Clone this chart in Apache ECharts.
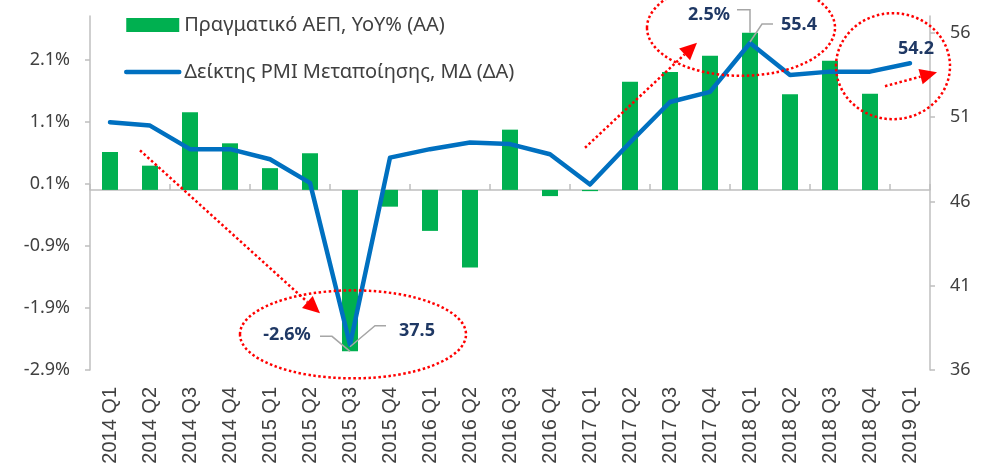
<!DOCTYPE html>
<html>
<head>
<meta charset="utf-8">
<script src="https://cdn.jsdelivr.net/npm/echarts@6/dist/echarts.min.js"></script>
<style>
  html, body { margin: 0; padding: 0; background: #fff; }
  #chart { width: 987px; height: 469px; }
</style>
</head>
<body>
<div id="chart"></div>
<script>
const quarters = ['2014 Q1', '2014 Q2', '2014 Q3', '2014 Q4', '2015 Q1', '2015 Q2', '2015 Q3', '2015 Q4',
  '2016 Q1', '2016 Q2', '2016 Q3', '2016 Q4', '2017 Q1', '2017 Q2', '2017 Q3', '2017 Q4',
  '2018 Q1', '2018 Q2', '2018 Q3', '2018 Q4', '2019 Q1'];
// Πραγματικό ΑΕΠ, YoY% (αριστερός άξονας)
const gdpYoY = [0.61, 0.39, 1.25, 0.75, 0.35, 0.59, -2.6, -0.27, -0.66, -1.25, 0.97, -0.1, -0.02,
  1.74, 1.9, 2.16, 2.53, 1.54, 2.08, 1.55, null];
// PMI μεταποίησης (δεξιός άξονας)
const pmi = [50.7, 50.5, 49.1, 49.1, 48.5, 47.1, 37.5, 48.6, 49.1, 49.5, 49.4, 48.8, 47.0,
  49.5, 51.9, 52.5, 55.4, 53.5, 53.7, 53.7, 54.2];
const leftTicks = [-2.9, -1.9, -0.9, 0.1, 1.1, 2.1];
const rightTicks = [36, 41, 46, 51, 56];

const troughIdx = 6, peakIdx = 16, lastIdx = 20;
const FONT = '"Noto Sans", "DejaVu Sans", sans-serif';
const axisGray = '#BFBFBF';
const textGray = '#404040';
const pmiBlue = '#0070C0';

const chart = echarts.init(document.getElementById('chart'));

chart.setOption({
  animation: false,
  textStyle: { fontFamily: FONT },
  legend: {
    orient: 'vertical',
    left: 119,
    top: 9,
    itemWidth: 53,
    itemHeight: 14,
    itemGap: 25,
    textStyle: { fontSize: 20, color: textGray, lineHeight: 22 },
    data: [
      { name: 'Πραγματικό ΑΕΠ, YoY% (ΑΑ)', icon: 'rect' },
      {
        name: 'Δείκτης PMI Μεταποίησης, ΜΔ (ΔΑ)',
        itemStyle: { opacity: 0 },
        lineStyle: { width: 4.5, color: pmiBlue, cap: 'round' }
      }
    ]
  },
  grid: { left: 90, right: 57, top: 16, bottom: 99 },
  xAxis: [
    {
      type: 'category',
      data: quarters,
      position: 'bottom',
      axisLine: { show: false, onZero: false },
      axisTick: { show: false },
      axisLabel: {
        rotate: 90, fontSize: 20, fontFamily: '"Liberation Sans", Arial, sans-serif',
        color: textGray, margin: 17, interval: 0
      }
    },
    {
      type: 'category',
      data: quarters,
      position: 'bottom',
      axisLine: { onZero: true, onZeroAxisIndex: 0, lineStyle: { color: axisGray, width: 1.5 } },
      axisTick: { show: true, inside: true, length: 6, lineStyle: { color: axisGray, width: 1.5 } },
      axisLabel: { show: false }
    }
  ],
  yAxis: [
    {
      type: 'value',
      min: -2.9,
      max: 2.8,
      splitLine: { show: false },
      axisLine: { show: true, lineStyle: { color: axisGray, width: 1.5 } },
      axisTick: { show: true, length: 5, customValues: leftTicks, lineStyle: { color: axisGray, width: 1.5 } },
      axisLabel: {
        fontSize: 18, color: textGray, margin: 20, customValues: leftTicks,
        formatter: v => v.toFixed(1) + '%'
      }
    },
    {
      type: 'value',
      min: 36,
      max: 57,
      position: 'right',
      splitLine: { show: false },
      axisLine: { show: true, lineStyle: { color: axisGray, width: 1.5 } },
      axisTick: { show: true, length: 5, customValues: rightTicks, lineStyle: { color: axisGray, width: 1.5 } },
      axisLabel: { fontSize: 18, color: textGray, margin: 20, customValues: rightTicks }
    }
  ],
  series: [
    {
      name: 'Πραγματικό ΑΕΠ, YoY% (ΑΑ)',
      type: 'bar',
      xAxisIndex: 0,
      yAxisIndex: 0,
      barWidth: 16,
      itemStyle: { color: '#00B050' },
      data: gdpYoY
    },
    {
      name: 'Δείκτης PMI Μεταποίησης, ΜΔ (ΔΑ)',
      type: 'line',
      xAxisIndex: 0,
      yAxisIndex: 1,
      symbol: 'none',
      z: 5,
      lineStyle: { color: pmiBlue, width: 4.5, cap: 'round', join: 'round' },
      itemStyle: { color: pmiBlue },
      data: pmi
    }
  ]
});

// σχολιασμοί: ετικέτες, οδηγοί, κύκλοι και βέλη
const barEnd = i => chart.convertToPixel({ seriesIndex: 0 }, [i, gdpYoY[i]]);
const pmiPt = i => chart.convertToPixel({ seriesIndex: 1 }, [i, pmi[i]]);

const red = '#FF0000';
const dotted = { stroke: red, lineWidth: 2.5, lineDash: [2.5, 2.5], fill: null };
const leader = { stroke: '#A6A6A6', lineWidth: 1.5, fill: null };
const labelFont = 'bold 18px ' + FONT;

const els = [];
function label(p, dx, dy, text) {
  els.push({ type: 'text', z: 20, style: {
    text: text, x: p[0] + dx, y: p[1] + dy, font: labelFont, fill: '#1F3864',
    align: 'center', verticalAlign: 'middle', textAlign: 'center', textVerticalAlign: 'middle'
  } });
}
function polyline(p, pts) {
  els.push({ type: 'polyline', z: 19, shape: { points: pts.map(q => [p[0] + q[0], p[1] + q[1]]) }, style: leader });
}
function ellipse(p, dx, dy, rx, ry) {
  els.push({ type: 'ellipse', z: 18, shape: { cx: p[0] + dx, cy: p[1] + dy, rx: rx, ry: ry }, style: dotted });
}
function arrow(p, s, t) {
  const x1 = p[0] + s[0], y1 = p[1] + s[1], x2 = p[0] + t[0], y2 = p[1] + t[1];
  const a = Math.atan2(y2 - y1, x2 - x1), L = 17, W = 8;
  const bx = x2 - L * Math.cos(a), by = y2 - L * Math.sin(a);
  els.push({ type: 'line', z: 18, shape: { x1: x1, y1: y1, x2: bx, y2: by }, style: dotted });
  els.push({ type: 'polygon', z: 18, shape: { points: [[x2, y2],
    [bx - W * Math.sin(a), by + W * Math.cos(a)], [bx + W * Math.sin(a), by - W * Math.cos(a)]] },
    style: { fill: red } });
}

const bT = barEnd(troughIdx), lT = pmiPt(troughIdx);
const bP = barEnd(peakIdx), lP = pmiPt(peakIdx);
const lL = pmiPt(lastIdx);

ellipse(bT, 3, -17, 113, 44);
ellipse(bP, -9, -5, 94, 48);
ellipse(lL, -17, 3, 57, 53);

arrow(bT, [-210, -201], [-30, -38]);
arrow(bP, [-165, 115], [-53, 10]);
arrow(lL, [-25, 23], [27, 9]);

polyline(bT, [[-30, -15], [-18, -15], [0, 0]]);
polyline(lT, [[0, 2], [25, -19], [36, -19]]);
polyline(bP, [[-13, -23], [0, -23], [0, 0]]);
polyline(lP, [[0, -1], [12, -19], [23, -19]]);

label(bT, -63, -16, gdpYoY[troughIdx].toFixed(1) + '%');
label(lT, 67, -14, pmi[troughIdx].toFixed(1));
label(bP, -41, -18, gdpYoY[peakIdx].toFixed(1) + '%');
label(lP, 49, -18, pmi[peakIdx].toFixed(1));
label(lL, 6, -14, pmi[lastIdx].toFixed(1));

chart.setOption({ graphic: { elements: els } });

window.addEventListener('resize', () => chart.resize());
</script>
</body>
</html>
